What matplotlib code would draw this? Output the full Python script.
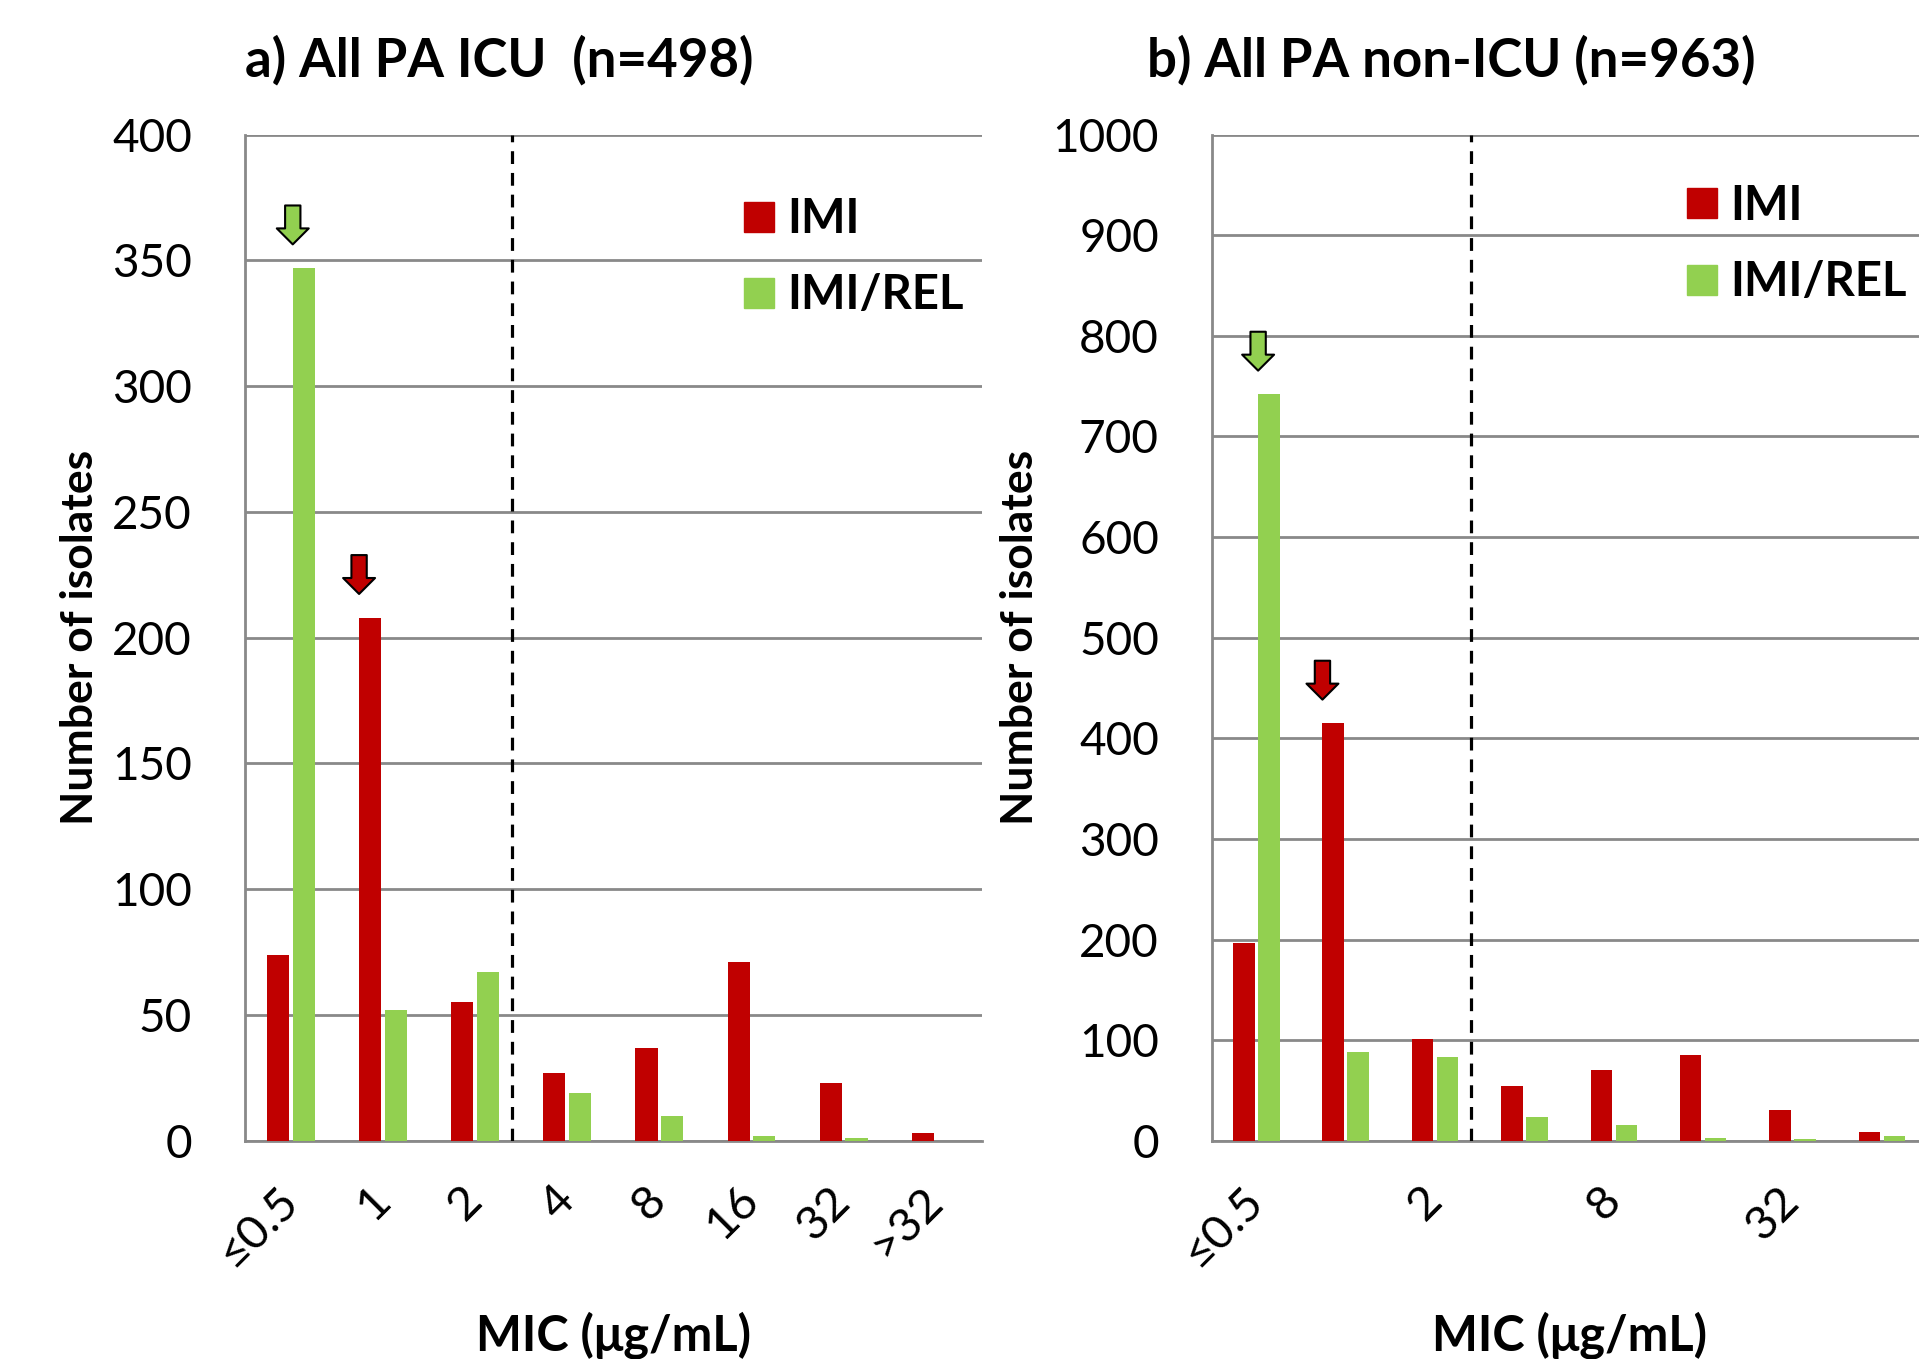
import matplotlib
matplotlib.use("Agg")
import matplotlib.pyplot as plt
from matplotlib.lines import Line2D
import numpy as np

plt.rcParams['font.family'] = ['Lato', 'DejaVu Sans']

# MIC categories (ug/mL)
mic_labels = ['≤0.5', '1', '2', '4', '8', '16', '32', '>32']

# a) ICU isolates
icu_imi = [74, 208, 55, 27, 37, 71, 23, 3]
icu_imi_rel = [347, 52, 67, 19, 10, 2, 1, 0]

# b) non-ICU isolates
nonicu_imi = [197, 415, 101, 54, 70, 85, 31, 9]
nonicu_imi_rel = [742, 88, 83, 24, 16, 3, 2, 5]

RED = '#C00000'
GREEN = '#92D050'
GRID = '#898989'


def draw_panel(ax, imi, imi_rel, ymax, ystep, tick_idx, leg_xy, arrows):
    x = np.arange(len(mic_labels))
    w = 0.24
    ax.bar(x - 0.14, imi, w, color=RED, zorder=3, label='IMI')
    ax.bar(x + 0.14, imi_rel, w, color=GREEN, zorder=3, label='IMI/REL')

    ax.set_xlim(-0.5, len(mic_labels) - 0.5)
    ax.set_ylim(0, ymax)
    ax.set_yticks(np.arange(0, ymax + 1, ystep))
    ax.yaxis.grid(True, color=GRID, lw=2, zorder=0)
    ax.set_axisbelow(True)
    for s in ['top', 'right']:
        ax.spines[s].set_visible(False)
    for s in ['left', 'bottom']:
        ax.spines[s].set_color(GRID)
        ax.spines[s].set_linewidth(2)
    ax.tick_params(length=0, labelsize=33, pad=38)

    ax.set_xticks(tick_idx)
    ax.set_xticklabels([mic_labels[i] for i in tick_idx], rotation=45,
                       ha='right', va='center', rotation_mode='anchor')
    ax.tick_params(axis='x', pad=38, labelsize=34)

    # breakpoint
    ax.axvline(2.4, color='black', ls=(0, (4, 2.8)), lw=2.3, zorder=4)

    ax.set_xlabel('MIC (μg/mL)', fontsize=35, fontweight='bold', labelpad=27)
    ax.set_ylabel('Number of isolates', fontsize=32, fontweight='bold', labelpad=9)

    # MIC90 arrows
    for idx, series, col in arrows:
        vals = imi if series == 0 else imi_rel
        xc = idx - 0.14 + 0.28 * series - 0.12
        ax.annotate('', xy=(xc, vals[idx]), xytext=(0, 45), textcoords='offset points',
                    xycoords='data',
                    arrowprops=dict(arrowstyle='simple,head_length=0.5,head_width=1.0,tail_width=0.48',
                                    mutation_scale=23, fc=col, ec='black', lw=1.5,
                                    shrinkA=0, shrinkB=17), zorder=5)

    handles = [Line2D([], [], marker='s', ls='', ms=22, color=RED, mec=RED),
               Line2D([], [], marker='s', ls='', ms=22, color=GREEN, mec=GREEN)]
    ax.legend(handles, ['IMI', 'IMI/REL'], loc='upper left', bbox_to_anchor=leg_xy,
              frameon=False, prop=dict(size=34, weight='bold'), borderpad=0,
              borderaxespad=0, handletextpad=0.1, labelspacing=0.68, handlelength=1.0)


fig = plt.figure(figsize=(19.19, 13.59), dpi=100)
ax1 = fig.add_axes([0.1276, 0.1606, 0.384, 0.7403])
ax2 = fig.add_axes([0.6314, 0.1606, 0.3725, 0.7403])

draw_panel(ax1, icu_imi, icu_imi_rel, 400, 50, list(range(8)), (0.666, 0.938),
           [(0, 1, GREEN), (1, 0, RED)])
draw_panel(ax2, nonicu_imi, nonicu_imi_rel, 1000, 100, [0, 2, 4, 6], (0.653, 0.951),
           [(0, 1, GREEN), (1, 0, RED)])

fig.text(0.1276, 0.944, 'a) All PA ICU  (n=498)', fontsize=38, fontweight='bold', va='baseline')
fig.text(0.5976, 0.944, 'b) All PA non-ICU (n=963)', fontsize=38, fontweight='bold', va='baseline')

fig.savefig('out.png', dpi=100)
